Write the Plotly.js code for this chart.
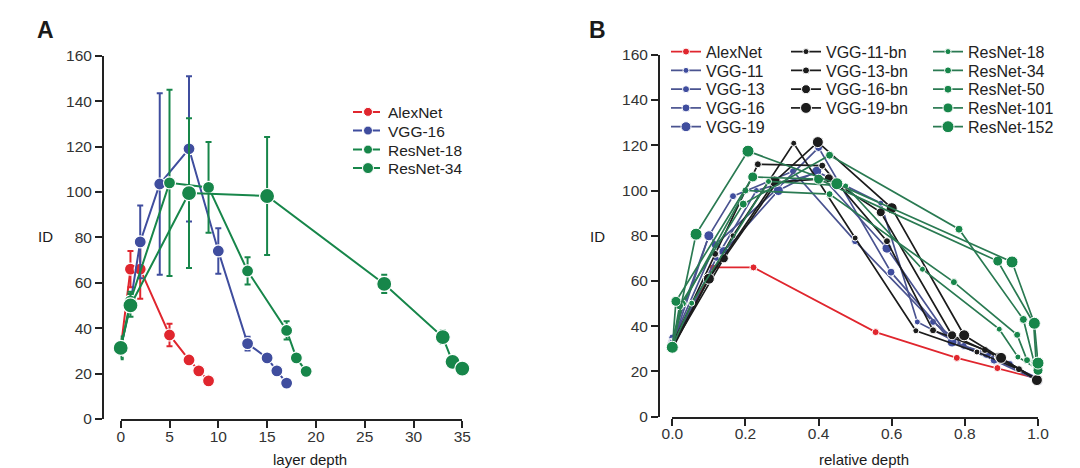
<!DOCTYPE html>
<html>
<head>
<meta charset="utf-8">
<script src="https://cdn.plot.ly/plotly-3.0.1.min.js"></script>
<style>html,body{margin:0;padding:0;background:#fff}#chart{width:1080px;height:468px}</style>
</head>
<body>
<div id="chart"></div>
<script>
// ---------- Panel A: ID vs layer depth ----------
const aAlexDepth = [0, 1, 2, 5, 7, 8, 9];
const aAlexId    = [31, 66, 66, 37, 26, 21.2, 16.8];
const aAlexErr   = [0, 8, 13, 5, 2, 2, 1];

const aVgg16Depth = [0, 1, 2, 4, 7, 10, 13, 15, 16, 17];
const aVgg16Id    = [31, 51, 78, 103.5, 119, 74, 33.2, 26.9, 21.2, 15.8];
const aVgg16Err   = [0, 3, 16, 40, 32, 10, 3, 1, 1, 1];

const aRes18Depth = [0, 1, 5, 9, 13, 17, 18, 19];
const aRes18Id    = [31, 52, 104, 102, 65.2, 39, 26.9, 21];
const aRes18Err   = [4, 4, 41, 20, 6, 4, 1, 1];

const aRes34Depth = [0, 1, 7, 15, 27, 33, 34, 35];
const aRes34Id    = [31.3, 50, 99.5, 98.2, 59.5, 36.1, 25.2, 22.2];
const aRes34Err   = [5, 5, 33, 26, 4, 3, 1, 1];

const aXTicks = [0, 5, 10, 15, 20, 25, 30, 35];
const yTicks  = [0, 20, 40, 60, 80, 100, 120, 140, 160];

// ---------- Panel B: ID vs relative depth ----------
const bAlexNetX = [0, 0.111, 0.222, 0.556, 0.778, 0.889, 1.0];
const bAlexNetY = [31, 66, 66, 37.4, 26, 21.5, 16.8];

const bVgg11X = [0, 0.12, 0.23, 0.4, 0.57, 0.67, 0.8, 0.92, 1.0];
const bVgg11Y = [31, 70, 100, 108, 94.4, 41.9, 31, 23, 17];
const bVgg13X = [0, 0.1, 0.166, 0.33, 0.5, 0.713, 0.797, 0.923, 1.0];
const bVgg13Y = [35, 80, 97.5, 108.5, 77.6, 41.9, 31.3, 23.3, 16.5];
const bVgg16X = [0, 0.117, 0.286, 0.4, 0.598, 0.765, 0.88, 1.0];
const bVgg16Y = [33, 76, 100.6, 119, 63.9, 33, 25, 16];
const bVgg19X = [0, 0.1, 0.141, 0.29, 0.395, 0.587, 0.765, 0.86, 1.0];
const bVgg19Y = [32, 80, 73, 100, 108.5, 74.5, 33, 28, 16];

const bVgg11bnX = [0, 0.1, 0.166, 0.332, 0.5, 0.666, 0.833, 0.948, 1.0];
const bVgg11bnY = [30, 61, 80, 120.9, 79, 38, 28.6, 21, 16];
const bVgg13bnX = [0, 0.117, 0.234, 0.41, 0.587, 0.713, 0.855, 0.948, 1.0];
const bVgg13bnY = [32, 72, 111.6, 111, 77.6, 38.2, 29.5, 21, 16];
const bVgg16bnX = [0, 0.141, 0.286, 0.428, 0.57, 0.765, 0.893, 1.0];
const bVgg16bnY = [31, 70, 103.7, 105.4, 90.4, 36, 26.5, 16.2];
const bVgg19bnX = [0, 0.1, 0.28, 0.398, 0.6, 0.798, 0.899, 0.997];
const bVgg19bnY = [31, 61, 104, 121.4, 92.2, 36, 26, 16.2];

const bRes18X = [0, 0.053, 0.263, 0.474, 0.684, 0.894, 0.945, 1.0];
const bRes18Y = [31, 50.2, 104, 102, 65.2, 38.7, 26.4, 21];
const bRes34X = [0, 0.029, 0.2, 0.43, 0.77, 0.943, 0.97, 1.0];
const bRes34Y = [31, 50, 100, 98.4, 59.5, 36.2, 25, 22.2];
const bRes50X = [0, 0.02, 0.194, 0.43, 0.784, 0.96, 0.99, 1.0];
const bRes50Y = [31, 49, 94, 115.6, 82.9, 43, 23.7, 21];
const bRes101X = [0, 0.01, 0.22, 0.4, 0.89, 0.988, 0.995, 1.0];
const bRes101Y = [31, 51, 106, 105, 68.8, 41.3, 24, 20.5];
const bRes152X = [0, 0.065, 0.207, 0.45, 0.929, 0.99, 1.0];
const bRes152Y = [30.7, 80.7, 117.4, 103, 68.4, 41.3, 23.7];

const bXTicks = [0, 0.2, 0.4, 0.6, 0.8, 1.0];
const bXTickText = ['0.0', '0.2', '0.4', '0.6', '0.8', '1.0'];

// ---------- styling ----------
const RED = '#e0262e', BLUE = '#3f4d9e', GREEN = '#17864a', BLACK = '#1c1c1c';
const BLUE_LINE = '#4a5390', GREEN_LINE = '#2a7a52', BLACK_LINE = '#1c1c1c';
const FONT = 'Liberation Sans, Arial, sans-serif';
const W = 1080, H = 468;
const px = v => v / W, py = v => (H - v) / H;

const legends = {};
let legendCount = 0;
function newLegend(textX, rowY, fontSize) {
  legendCount += 1;
  const id = legendCount === 1 ? 'legend' : 'legend' + legendCount;
  legends[id] = {
    x: px(textX - 40), y: py(rowY), xanchor: 'left', yanchor: 'middle',
    bgcolor: 'rgba(0,0,0,0)', borderwidth: 0, itemsizing: 'trace', itemwidth: 30,
    font: {family: FONT, size: fontSize, color: '#222'}
  };
  return id;
}

function aTrace(name, x, y, err, color, size) {
  return {
    type: 'scatter', mode: 'lines+markers', name: name, x: x, y: y,
    xaxis: 'x', yaxis: 'y', showlegend: false, cliponaxis: false,
    line: {color: color, width: 2},
    marker: {color: color, size: size, line: {color: '#ffffff', width: 1.2}},
    error_y: {type: 'data', array: err, visible: true, color: color, thickness: 2, width: 3}
  };
}
function aLegend(name, color, size, rowY) {
  return {
    type: 'scatter', mode: 'lines+markers', name: name, x: [null], y: [null],
    xaxis: 'x', yaxis: 'y', legend: newLegend(388, rowY, 15.5),
    line: {color: color, width: 2, dash: 'dash'},
    marker: {color: color, size: size, line: {color: '#ffffff', width: 1}}
  };
}
function bTrace(name, x, y, color, lineColor, size, textX, rowY) {
  return {
    type: 'scatter', mode: 'lines+markers', name: name, x: x, y: y,
    xaxis: 'x2', yaxis: 'y2', legend: newLegend(textX, rowY, 16), cliponaxis: false,
    line: {color: lineColor, width: 1.7},
    marker: {color: color, size: size, line: {color: '#ffffff', width: 1}}
  };
}

const C1 = 706, C2 = 826, C3 = 968;
const R = [51.7, 70.5, 89.3, 108, 126.8];

const traces = [
  aTrace('AlexNet', aAlexDepth, aAlexId, aAlexErr, RED, 12),
  aTrace('VGG-16', aVgg16Depth, aVgg16Id, aVgg16Err, BLUE, 12),
  aTrace('ResNet-18', aRes18Depth, aRes18Id, aRes18Err, GREEN, 12),
  aTrace('ResNet-34', aRes34Depth, aRes34Id, aRes34Err, GREEN, 15),
  aLegend('AlexNet', RED, 9, 112.3),
  aLegend('VGG-16', BLUE, 9, 131),
  aLegend('ResNet-18', GREEN, 9, 150),
  aLegend('ResNet-34', GREEN, 11, 168.5),

  bTrace('AlexNet', bAlexNetX, bAlexNetY, RED, RED, 7, C1, R[0]),
  bTrace('VGG-11', bVgg11X, bVgg11Y, BLUE, BLUE_LINE, 6, C1, R[1]),
  bTrace('VGG-13', bVgg13X, bVgg13Y, BLUE, BLUE_LINE, 7, C1, R[2]),
  bTrace('VGG-16', bVgg16X, bVgg16Y, BLUE, BLUE_LINE, 8, C1, R[3]),
  bTrace('VGG-19', bVgg19X, bVgg19Y, BLUE, BLUE_LINE, 10, C1, R[4]),
  bTrace('VGG-11-bn', bVgg11bnX, bVgg11bnY, BLACK, BLACK_LINE, 6, C2, R[0]),
  bTrace('VGG-13-bn', bVgg13bnX, bVgg13bnY, BLACK, BLACK_LINE, 7, C2, R[1]),
  bTrace('VGG-16-bn', bVgg16bnX, bVgg16bnY, BLACK, BLACK_LINE, 9, C2, R[2]),
  bTrace('VGG-19-bn', bVgg19bnX, bVgg19bnY, BLACK, BLACK_LINE, 11, C2, R[3]),
  bTrace('ResNet-18', bRes18X, bRes18Y, GREEN, GREEN_LINE, 6, C3, R[0]),
  bTrace('ResNet-34', bRes34X, bRes34Y, GREEN, GREEN_LINE, 7, C3, R[1]),
  bTrace('ResNet-50', bRes50X, bRes50Y, GREEN, GREEN_LINE, 8, C3, R[2]),
  bTrace('ResNet-101', bRes101X, bRes101Y, GREEN, GREEN_LINE, 10, C3, R[3]),
  bTrace('ResNet-152', bRes152X, bRes152Y, GREEN, GREEN_LINE, 12, C3, R[4])
];

const axisCommon = {
  showgrid: false, zeroline: false, showline: true, linecolor: '#222', linewidth: 2,
  ticks: 'outside', ticklen: 7, tickwidth: 2, tickcolor: '#222',
  tickfont: {family: FONT, size: 15.5, color: '#333'}, fixedrange: true
};

function ann(text, x, y, size) {
  return {text: text, x: px(x), y: py(y), xref: 'paper', yref: 'paper', showarrow: false,
          xanchor: 'center', yanchor: 'middle', font: {family: FONT, size: size, color: '#1a1a1a'}};
}

const layout = Object.assign({
  width: W, height: H, margin: {l: 0, r: 0, t: 0, b: 0},
  paper_bgcolor: '#ffffff', plot_bgcolor: '#ffffff',
  font: {family: FONT, color: '#222'},
  xaxis: Object.assign({}, axisCommon, {
    domain: [px(120.7), px(462.3)], range: [0, 35], anchor: 'y',
    tickvals: aXTicks, ticklabelstandoff: -5
  }),
  yaxis: Object.assign({}, axisCommon, {
    domain: [py(419), py(55.7)], range: [0, 160], anchor: 'free', position: px(103),
    tickvals: yTicks
  }),
  xaxis2: Object.assign({}, axisCommon, {
    domain: [px(672.3), px(1038)], range: [0, 1], anchor: 'y2',
    tickvals: bXTicks, ticktext: bXTickText, ticklabelstandoff: -5
  }),
  yaxis2: Object.assign({}, axisCommon, {
    domain: [py(416.7), py(54.8)], range: [0, 160], anchor: 'free', position: px(659),
    tickvals: yTicks
  }),
  annotations: [
    ann('<b>A</b>', 45, 30, 23),
    ann('<b>B</b>', 597, 30, 23),
    ann('ID', 45, 236, 15),
    ann('ID', 597, 236, 15),
    ann('layer depth', 310, 459, 15),
    ann('relative depth', 864, 459, 15)
  ]
}, legends);

Plotly.newPlot('chart', traces, layout, {displayModeBar: false, staticPlot: true});
</script>
</body>
</html>
